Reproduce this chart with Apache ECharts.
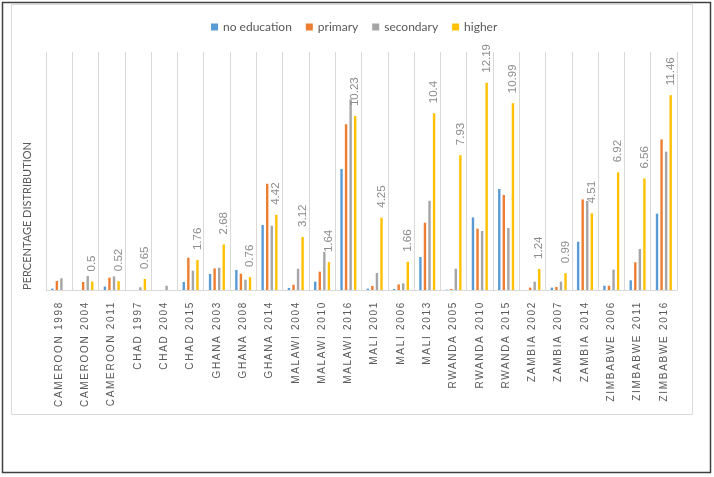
<!DOCTYPE html>
<html>
<head>
<meta charset="utf-8">
<script src="https://cdn.jsdelivr.net/npm/echarts@6/dist/echarts.min.js"></script>
<style>html,body{margin:0;padding:0;background:#fff;}#c{width:714px;height:477px;}</style>
</head>
<body>
<div id="c"></div>
<script>
var categories = ['CAMEROON 1998','CAMEROON 2004','CAMEROON 2011','CHAD 1997','CHAD 2004','CHAD 2015','GHANA 2003','GHANA 2008','GHANA 2014','MALAWI 2004','MALAWI 2010','MALAWI 2016','MALI 2001','MALI 2006','MALI 2013','RWANDA 2005','RWANDA 2010','RWANDA 2015','ZAMBIA 2002','ZAMBIA 2007','ZAMBIA 2014','ZIMBABWE 2006','ZIMBABWE 2011','ZIMBABWE 2016'];
var noEducation = [0.08,0,0.2,0,0,0.47,0.94,1.18,3.82,0.12,0.49,7.12,0.08,0.06,1.94,0.02,4.27,5.94,0,0.14,2.84,0.25,0.57,4.49];
var primary = [0.53,0.47,0.73,0,0,1.9,1.27,0.96,6.25,0.31,1.08,9.75,0.24,0.33,3.96,0.06,3.61,5.59,0.14,0.18,5.33,0.25,1.63,8.86];
var secondary = [0.69,0.82,0.8,0.16,0.25,1.14,1.31,0.61,3.78,1.25,2.24,11.22,1.0,0.39,5.25,1.25,3.47,3.65,0.49,0.49,5.24,1.2,2.41,8.14];
var higher = [null,0.5,0.52,0.65,null,1.76,2.68,0.76,4.42,3.12,1.64,10.23,4.25,1.66,10.4,7.93,12.19,10.99,1.24,0.99,4.51,6.92,6.56,11.46];
var seriesNames = ['no education','primary','secondary','higher'];
var colors = ['#5b9bd5','#ed7d31','#a5a5a5','#ffc000'];

// letter-spaced category labels, as in the reference
(function(){
  var catSet = {};
  categories.forEach(function(c){ catSet[c] = true; });
  var proto = CanvasRenderingContext2D.prototype;
  var orig = proto.fillText;
  proto.fillText = function(t, x, y, m){
    var spaced = !!catSet[t];
    var f = this.font;
    this.letterSpacing = spaced ? '1.7px' : '0px';
    this.font = f;
    var r = m === undefined ? orig.call(this, t, x, y) : orig.call(this, t, x, y, m);
    if (spaced) { this.letterSpacing = '0px'; this.font = f; }
    return r;
  };
})();

var chart = echarts.init(document.getElementById('c'), null, {renderer:'canvas'});
var dataSets = [noEducation, primary, secondary, higher];
var series = dataSets.map(function(d, i){
  var s = {
    name: seriesNames[i], type: 'bar', data: d, barWidth: 2.4, barGap: '90%',
    itemStyle: {color: colors[i]}
  };
  if (i === 3) {
    s.label = {show: true, position: 'top', rotate: 90, align: 'left', verticalAlign: 'middle',
      distance: 10, color: '#8c8c8c', fontSize: 11.5, fontFamily: 'Liberation Sans',
      formatter: function(p){ return p.value == null ? '' : String(p.value); }};
  }
  return s;
});
chart.setOption({
  animation: false,
  color: colors,
  legend: {
    data: seriesNames, left: 206, top: 16, itemWidth: 7, itemHeight: 7, itemGap: 14,
    icon: 'rect',
    textStyle: {color: '#595959', fontSize: 12, fontFamily: 'Lato'}
  },
  grid: {left: 46, right: 37, top: 52, bottom: 187},
  xAxis: {
    type: 'category', data: categories,
    axisLine: {lineStyle: {color: '#d9d9d9'}},
    axisTick: {show: false},
    splitLine: {show: true, lineStyle: {color: '#d9d9d9', width: 1}},
    axisLabel: {rotate: 90, interval: 0, margin: 11, color: '#595959', fontSize: 10, fontFamily: 'Liberation Sans'}
  },
  yAxis: {type: 'value', min: 0, max: 14, show: false},
  series: series,
  graphic: [
    {type: 'rect', shape: {x: 2.5, y: 2.5, width: 708, height: 470}, style: {fill: 'none', stroke: '#404040', lineWidth: 1.5}, silent: true},
    {type: 'rect', shape: {x: 11.5, y: 4.5, width: 681, height: 410}, style: {fill: 'none', stroke: '#d9d9d9', lineWidth: 1}, silent: true},
    {type: 'text', x: 27, y: 216, rotation: Math.PI/2,
      style: {text: 'PERCENTAGE DISTRIBUTION', fill: '#595959', fontSize: 11, fontFamily: 'Lato', align: 'center', verticalAlign: 'middle'}}
  ]
});
</script>
</body>
</html>
